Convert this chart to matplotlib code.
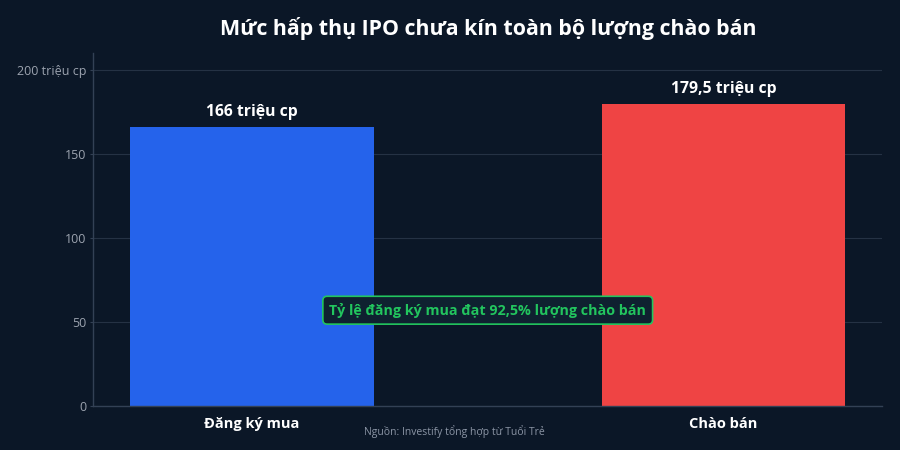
import matplotlib
matplotlib.use("Agg")
import matplotlib.pyplot as plt

plt.rcParams["font.family"] = ["Open Sans", "Noto Sans", "DejaVu Sans"]

categories = ["Đăng ký mua", "Chào bán"]
values = [166, 179.5]
value_labels = ["166 triệu cp", "179,5 triệu cp"]
bar_colors = ["#2563eb", "#ef4444"]
yticks = [0, 50, 100, 150, 200]
ytick_labels = ["0", "50", "100", "150", "200 triệu cp"]
title = "Mức hấp thụ IPO chưa kín toàn bộ lượng chào bán"
note = "Tỷ lệ đăng ký mua đạt 92,5% lượng chào bán"
note_y = 57
source = "Nguồn: Investify tổng hợp từ Tuổi Trẻ"

BG = "#0b1727"
GRID = "#253244"

fig = plt.figure(figsize=(9, 4.5), dpi=100, facecolor=BG)
ax = fig.add_axes([0.1033, 0.0978, 0.8767, 0.7842], facecolor=BG)

x = list(range(len(categories)))
ax.bar(x, values, width=0.517, color=bar_colors, zorder=2)
for xi, v, lab in zip(x, values, value_labels):
    ax.annotate(lab, (xi, v), xytext=(0, 5), textcoords="offset points",
                ha="center", va="bottom", color="white", fontsize=11.3, fontweight="bold")

ax.set_xlim(-0.337, 1.336)
ax.set_ylim(0, 210)
ax.set_yticks(yticks)
ax.set_yticklabels(ytick_labels)
ax.set_xticks(x)
ax.set_xticklabels(categories, fontsize=10.5, fontweight="bold", color="white")
ax.tick_params(axis="y", colors="#9ca3af", labelsize=9, length=2.5, width=0.8, pad=2.5)
ax.tick_params(axis="x", length=0, pad=8)
ax.yaxis.grid(True, color=GRID, linewidth=0.8, zorder=0)
for s in ["top", "right"]:
    ax.spines[s].set_visible(False)
for s in ["left", "bottom"]:
    ax.spines[s].set_color("#334155")
    ax.spines[s].set_linewidth(1)
ax.tick_params(axis="y", color="#334155")

ax.text(0.5, note_y, note, ha="center", va="center", color="#22c55e",
        fontsize=10.3, fontweight="bold", zorder=5,
        bbox=dict(boxstyle="round,pad=0.45,rounding_size=0.3", fc="#0f2130",
                  ec="#22c55e", lw=1.2))

fig.text(0.542, 0.937, title, ha="center", va="center", color="white",
         fontsize=15.4, fontweight="bold")
fig.text(0.505, 0.04, source, ha="center", va="center", color="#8b95a5", fontsize=7.5)

fig.savefig("out.png", dpi=100, facecolor=BG)
